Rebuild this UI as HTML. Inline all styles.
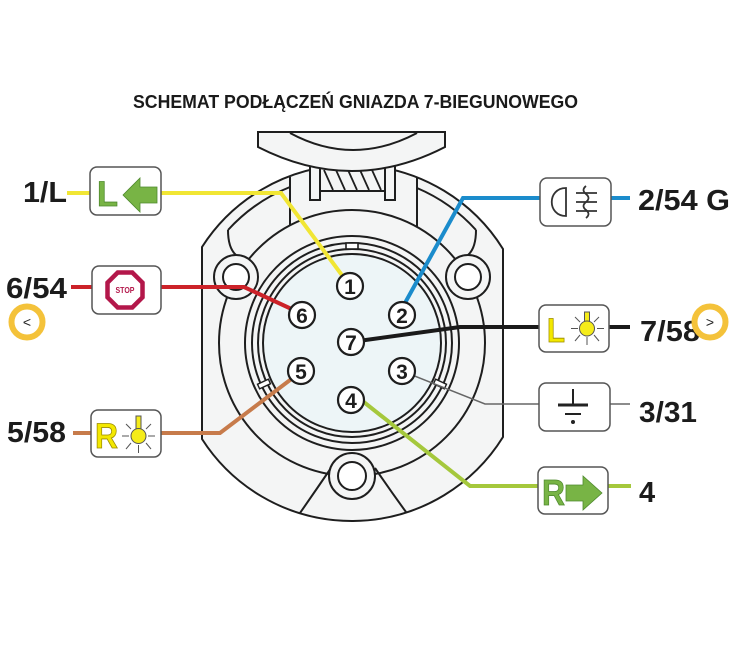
<!DOCTYPE html>
<html><head><meta charset="utf-8">
<style>
html,body{margin:0;padding:0;background:#fff;}
svg{display:block;}
text{font-family:"Liberation Sans",Arial,sans-serif;}
</style></head><body>
<svg width="742" height="651" viewBox="0 0 742 651" xmlns="http://www.w3.org/2000/svg">
<rect width="742" height="651" fill="#fff"/>
<text x="133" y="108" font-size="18" font-weight="bold" fill="#1a1a1a" textLength="445" lengthAdjust="spacingAndGlyphs">SCHEMAT PODŁĄCZEŃ GNIAZDA 7-BIEGUNOWEGO</text>

<!-- socket body -->
<g stroke="#1e1e1e" stroke-width="2" fill="none">
<path d="M202,247 A178,178 0 0 1 503,249 L503,437 A178,178 0 0 1 202,439 Z" fill="#f4f5f5"/>
<line x1="290" y1="177" x2="290" y2="225"/>
<line x1="417" y1="177" x2="417" y2="227"/>
<path d="M228,230 A168,168 0 0 1 290,187"/>
<path d="M417,188 A168,168 0 0 1 476,230"/>
<path d="M228,230 Q228,248 236,255"/>
<path d="M476,230 Q476,248 468,255"/>
<path d="M331,468 Q316,490 300,513"/>
<path d="M375,468 Q390,490 406,512"/>
<circle cx="352" cy="343" r="133"/>
<circle cx="352" cy="343" r="107"/>
<circle cx="352" cy="343" r="100"/>
<circle cx="352" cy="343" r="94"/>
<circle cx="352" cy="343" r="89" fill="#edf5f7"/>
<rect x="346" y="243" width="12" height="6" fill="#fff" stroke-width="1.6"/>
<rect x="-6" y="-2.5" width="12" height="5" fill="#fff" stroke-width="1.4" transform="translate(264,384) rotate(155)"/>
<rect x="-6" y="-2.5" width="12" height="5" fill="#fff" stroke-width="1.4" transform="translate(440,384) rotate(25)"/>
<!-- holes -->
<circle cx="236" cy="277" r="22" fill="#f4f5f5"/>
<circle cx="236" cy="277" r="13" fill="#fff"/>
<circle cx="468" cy="277" r="22" fill="#f4f5f5"/>
<circle cx="468" cy="277" r="13" fill="#fff"/>
<circle cx="352" cy="476" r="23" fill="#f4f5f5"/>
<circle cx="352" cy="476" r="14" fill="#fff"/>
<!-- hinge -->
<rect x="320" y="168" width="65" height="23" fill="#f4f5f5"/>
<g stroke-width="1.8">
<line x1="324" y1="170" x2="333" y2="190"/>
<line x1="336" y1="170" x2="345" y2="190"/>
<line x1="348" y1="170" x2="357" y2="190"/>
<line x1="360" y1="170" x2="369" y2="190"/>
<line x1="372" y1="170" x2="381" y2="190"/>
</g>
<rect x="310" y="166" width="10" height="34" fill="#f4f5f5"/>
<rect x="385" y="166" width="10" height="34" fill="#f4f5f5"/>
<!-- cap -->
<path d="M258,132 L445,132 L445,147 Q352,195 258,147 Z" fill="#f4f5f5"/>
<path d="M290,133 Q353,167 417,133"/>
</g>

<!-- wires -->
<g fill="none" stroke-width="4" stroke-linejoin="miter">
<polyline points="67,193 281,193 350,286" stroke="#f1e634"/>
<polyline points="71,287 244,287 298,312" stroke="#cc2229"/>
<polyline points="400,312 463,198 630,198" stroke="#1b8ccc"/>
<polyline points="351,342 460,327 630,327" stroke="#1a1a1a"/>
<polyline points="402,371 485,404 630,404" stroke="#666" stroke-width="1.5"/>
<polyline points="360,399 470,486 631,486" stroke="#a5c83c"/>
<polyline points="73,433 220,433 298,374" stroke="#c77b4b"/>
</g>

<!-- pins -->
<g stroke="#1e1e1e" stroke-width="2.2" fill="#fff">
<circle cx="350" cy="286" r="13"/>
<circle cx="302" cy="315" r="13"/>
<circle cx="402" cy="315" r="13"/>
<circle cx="351" cy="342" r="13"/>
<circle cx="301" cy="371" r="13"/>
<circle cx="402" cy="371" r="13"/>
<circle cx="351" cy="400" r="13"/>
</g>
<g font-size="21" font-weight="bold" fill="#1e1e1e" text-anchor="middle">
<text x="350" y="294">1</text>
<text x="302" y="323">6</text>
<text x="402" y="323">2</text>
<text x="351" y="350">7</text>
<text x="301" y="379">5</text>
<text x="402" y="379">3</text>
<text x="351" y="408">4</text>
</g>

<!-- boxes -->
<g fill="#fff" stroke="#555" stroke-width="1.5">
<rect x="90" y="167" width="71" height="48" rx="7"/>
<rect x="92" y="266" width="69" height="48" rx="7"/>
<rect x="91" y="410" width="70" height="47" rx="7"/>
<rect x="540" y="178" width="71" height="48" rx="7"/>
<rect x="539" y="305" width="70" height="47" rx="7"/>
<rect x="539" y="383" width="71" height="48" rx="7"/>
<rect x="538" y="467" width="70" height="47" rx="7"/>
</g>

<!-- box 1: L + left arrow -->
<text x="97" y="206" font-size="35" font-weight="bold" fill="#78b445" stroke="#4f8a2e" stroke-width="0.8" textLength="21" lengthAdjust="spacingAndGlyphs">L</text>
<polygon points="123,195 140,178 140,187 157,187 157,203 140,203 140,212" fill="#78b445" stroke="#4f8a2e" stroke-width="0.8"/>

<!-- STOP -->
<polygon points="144,297.3 133.8,307.5 119.2,307.5 109,297.3 109,282.7 119.2,272.5 133.8,272.5 144,282.7" transform="translate(-1.5,0)" fill="#fff" stroke="#b3174a" stroke-width="4.5"/>
<text x="125" y="293" font-size="8.5" font-weight="bold" fill="#b3174a" text-anchor="middle" textLength="19" lengthAdjust="spacingAndGlyphs">STOP</text>

<!-- R light box -->
<text x="95" y="448" font-size="35" font-weight="bold" fill="#f3e800" stroke="#9a8a00" stroke-width="0.8" textLength="23" lengthAdjust="spacingAndGlyphs">R</text>
<g stroke="#555" stroke-width="1">
<line x1="122" y1="436" x2="129" y2="436"/>
<line x1="148" y1="436" x2="155" y2="436"/>
<line x1="131" y1="443" x2="126" y2="449"/>
<line x1="146" y1="443" x2="151" y2="449"/>
<line x1="138.5" y1="445" x2="138.5" y2="453"/>
<line x1="131" y1="429" x2="126" y2="424"/>
<line x1="146" y1="429" x2="151" y2="424"/>
<rect x="136" y="416" width="5" height="13" fill="#f5ec1a"/>
<circle cx="138.5" cy="436" r="7.5" fill="#f5ec1a"/>
</g>

<!-- fog light -->
<g fill="none" stroke="#333" stroke-width="1.8">
<path d="M566,188 C547,188 547,216 566,216 Z"/>
<path d="M586,186 q-5,4 0,8 q5,4 0,8 q-5,4 0,8 q5,4 0,8"/>
<line x1="576" y1="193" x2="597" y2="193"/>
<line x1="576" y1="202" x2="597" y2="202"/>
<line x1="576" y1="211" x2="597" y2="211"/>
</g>

<!-- L light box 7 -->
<text x="547" y="342" font-size="34" font-weight="bold" fill="#f3e800" stroke="#9a8a00" stroke-width="0.8" textLength="18" lengthAdjust="spacingAndGlyphs">L</text>
<g stroke="#555" stroke-width="1">
<line x1="571" y1="328.5" x2="578" y2="328.5"/>
<line x1="597" y1="328.5" x2="604" y2="328.5"/>
<line x1="580" y1="335" x2="575" y2="341"/>
<line x1="594" y1="335" x2="599" y2="341"/>
<line x1="587" y1="337" x2="587" y2="345"/>
<line x1="580" y1="322" x2="575" y2="317"/>
<line x1="594" y1="322" x2="599" y2="317"/>
<rect x="584.5" y="312" width="5" height="11" fill="#f5ec1a"/>
<circle cx="587" cy="328.5" r="7.5" fill="#f5ec1a"/>
</g>

<!-- ground -->
<g stroke="#222">
<line x1="573" y1="389" x2="573" y2="404" stroke-width="2"/>
<line x1="558" y1="405" x2="588" y2="405" stroke-width="3"/>
<line x1="565" y1="414" x2="581" y2="414" stroke-width="2"/>
</g>
<circle cx="573" cy="422" r="2" fill="#222"/>

<!-- R + right arrow -->
<text x="542" y="505" font-size="36" font-weight="bold" fill="#78b445" stroke="#4f8a2e" stroke-width="0.8" textLength="23" lengthAdjust="spacingAndGlyphs">R</text>
<polygon points="566,485 583,485 583,476 602,493 583,510 583,501 566,501" fill="#78b445" stroke="#4f8a2e" stroke-width="0.8"/>

<!-- labels -->
<g font-size="29" font-weight="bold" fill="#1c1c1c" lengthAdjust="spacingAndGlyphs">
<text x="23" y="202" textLength="44" lengthAdjust="spacingAndGlyphs">1/L</text>
<text x="6" y="298" textLength="61" lengthAdjust="spacingAndGlyphs">6/54</text>
<text x="7" y="442" textLength="59" lengthAdjust="spacingAndGlyphs">5/58</text>
<text x="638" y="210" textLength="92" lengthAdjust="spacingAndGlyphs">2/54 G</text>
<text x="640" y="341" textLength="60" lengthAdjust="spacingAndGlyphs">7/58</text>
<text x="639" y="422" textLength="58" lengthAdjust="spacingAndGlyphs">3/31</text>
<text x="639" y="502">4</text>
</g>

<!-- nav circles -->
<circle cx="27" cy="322" r="15.5" fill="#fff" stroke="#f4c23a" stroke-width="6"/>
<text x="27" y="327" font-size="14" fill="#222" text-anchor="middle">&lt;</text>
<circle cx="710" cy="322" r="15.5" fill="#fff" stroke="#f4c23a" stroke-width="6"/>
<text x="710" y="327" font-size="14" fill="#222" text-anchor="middle">&gt;</text>
</svg>
</body></html>
